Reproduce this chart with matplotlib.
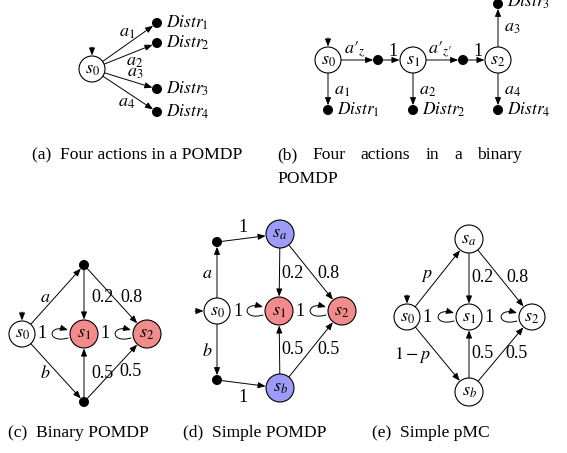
import numpy as np
import matplotlib.pyplot as plt
from matplotlib.patches import Circle, FancyArrowPatch
from matplotlib.path import Path

plt.rcParams['mathtext.fontset'] = 'stix'
plt.rcParams['font.family'] = ['Liberation Serif', 'DejaVu Serif']

# labels / data
a_actions = [r'$a_1$', r'$a_2$', r'$a_3$', r'$a_4$']
distrs = [r'$Distr_1$', r'$Distr_2$', r'$Distr_3$', r'$Distr_4$']
b_states = [r'$s_0$', r'$s_1$', r'$s_2$']
b_choices = ['$a\u2032_z$', '$a\u2032_{z\u2032}$']
b_probs = ['1', '1']
cd_actions = [r'$a$', r'$b$']
e_branch = [r'$p$', r'$1-p$']
probs_top = ['0.2', '0.8']
probs_bottom = ['0.5', '0.5']
loop_probs = ['1', '1']
captions = ['(a)  Four actions in a POMDP',
            '(b)  Four actions in a binary POMDP',
            '(c)  Binary POMDP', '(d)  Simple POMDP', '(e)  Simple pMC']

RED = '#f28b8b'
BLUE = '#9c9cf6'
FS = 13
R = 13
DOT = 4.3

fig = plt.figure(figsize=(5.67, 4.53), dpi=100)
ax = fig.add_axes([0, 0, 1, 1])
ax.set_xlim(0, 567)
ax.set_ylim(453, 0)
ax.set_aspect('equal')
ax.axis('off')


def node(xy, label, r=R, fc='white'):
    ax.add_patch(Circle(xy, r, fc=fc, ec='black', lw=0.8, zorder=3))
    ax.text(xy[0], xy[1], label, ha='center', va='center', fontsize=FS, zorder=4)


def dot(xy):
    ax.add_patch(Circle(xy, DOT, fc='black', ec='black', zorder=3))


def edge(p, q, rp=R, rq=R):
    p, q = np.array(p, float), np.array(q, float)
    d = (q - p) / np.linalg.norm(q - p)
    a = p + d * rp
    b = q - d * (rq + 0.5)
    ax.add_patch(FancyArrowPatch(a, b, arrowstyle='-|>,head_length=0.5,head_width=0.2',
                                 mutation_scale=9, lw=0.7, color='black',
                                 shrinkA=0, shrinkB=0, zorder=2))


def init_top(xy, r=R):
    edge((xy[0], xy[1] - r - 9), xy, 0, r)


def init_left(xy, r=R):
    edge((xy[0] - r - 9, xy[1]), xy, 0, r)


def loop(xy, r=R):
    x0 = xy[0] - r - 2
    y0 = xy[1]
    verts = [(x0, y0 + 4), (x0 - 21, y0 + 10), (x0 - 21, y0 - 10), (x0, y0 - 4)]
    path = Path(verts, [Path.MOVETO, Path.CURVE4, Path.CURVE4, Path.CURVE4])
    ax.add_patch(FancyArrowPatch(path=path, arrowstyle='-|>,head_length=0.5,head_width=0.2',
                                 mutation_scale=9, lw=0.7, color='black', zorder=2))


def label(xy, s, ha='center', fs=FS):
    ax.text(xy[0], xy[1], s, ha=ha, va='center', fontsize=fs)


# ---------------- (a)
s0 = (92, 69)
node(s0, r'$s_0$')
init_top(s0)
dots_a = [(157, 23), (157, 43), (157, 89), (157, 112)]
lab_a = [(127, 32), (135, 61), (135, 72), (127, 102)]
for d, s, lp, a in zip(dots_a, distrs, lab_a, a_actions):
    dot(d)
    edge(s0, d, R, DOT)
    label((d[0] + 9, d[1]), s, ha='left', fs=12.5)
    label(lp, a)

# ---------------- (b)
bs = [(328, 60), (413, 60), (498, 60)]
for p, s in zip(bs, b_states):
    node(p, s)
init_top(bs[0])
mids = [(378, 60), (463, 60)]
for i, m in enumerate(mids):
    dot(m)
    edge(bs[i], m, R, DOT)
    edge(m, bs[i + 1], DOT, R)
    label(((bs[i][0] + m[0]) / 2 + 2, 50), b_choices[i])
    label(((m[0] + bs[i + 1][0]) / 2 - 3, 52), b_probs[i])
below = [(328, 110), (413, 110), (498, 110)]
for p, d, a, s in zip(bs, below, [a_actions[0], a_actions[1], a_actions[3]],
                      [distrs[0], distrs[1], distrs[3]]):
    dot(d)
    edge(p, d, R, DOT)
    label((p[0] + 6, 90), a, ha='left')
    label((d[0] + 9, d[1]), s, ha='left', fs=12.5)
top = (498, 4)
dot(top)
edge(bs[2], top, R, DOT)
label((504, 27), a_actions[2], ha='left')
label((507, 2), distrs[2], ha='left', fs=12.5)

# ---------------- (c)
c0, c1, c2 = (22, 334), (84, 334), (147, 334)
ct, cb = (84, 265), (84, 402)
node(c0, r'$s_0$')
node(c1, r'$s_1$', 14, RED)
node(c2, r'$s_2$', 14, RED)
init_top(c0)
dot(ct)
dot(cb)
edge(c0, ct, R, DOT)
edge(c0, cb, R, DOT)
edge(ct, c1, DOT, 14)
edge(ct, c2, DOT, 14)
edge(cb, c1, DOT, 14)
edge(cb, c2, DOT, 14)
loop(c1, 14)
loop(c2, 14)
label((45, 297), cd_actions[0])
label((45, 373), cd_actions[1])
label((42, 334), loop_probs[0])
label((105, 334), loop_probs[1])
label((102, 297), probs_top[0])
label((131, 298), probs_top[1])
label((102, 373), probs_bottom[0])
label((131, 372), probs_bottom[1])

# ---------------- (d)
d0, d1, d2 = (217, 311), (279, 311), (342, 311)
da, db = (280, 234), (280, 388)
dt, dbt = (217, 242), (217, 380)
node(d0, r'$s_0$')
node(d1, r'$s_1$', 14, RED)
node(d2, r'$s_2$', 14, RED)
node(da, r'$s_a$', 14, BLUE)
node(db, r'$s_b$', 14, BLUE)
init_left(d0)
dot(dt)
dot(dbt)
edge(d0, dt, R, DOT)
edge(d0, dbt, R, DOT)
edge(dt, da, DOT, 14)
edge(dbt, db, DOT, 14)
edge(da, d1, 14, 14)
edge(da, d2, 14, 14)
edge(db, d1, 14, 14)
edge(db, d2, 14, 14)
loop(d1, 14)
loop(d2, 14)
label((243, 228), '1')
label((243, 397), '1')
label((207, 273), cd_actions[0])
label((207, 352), cd_actions[1])
label((238, 311), loop_probs[0])
label((300, 311), loop_probs[1])
label((292, 274), probs_top[0])
label((328, 274), probs_top[1])
label((292, 350), probs_bottom[0])
label((328, 350), probs_bottom[1])

# ---------------- (e)
e0, e1, e2 = (407, 317), (469, 317), (532, 317)
ea, eb = (469, 239), (469, 392)
node(e0, r'$s_0$')
node(e1, r'$s_1$')
node(e2, r'$s_2$')
node(ea, r'$s_a$', 14)
node(eb, r'$s_b$', 14)
init_top(e0)
edge(e0, ea, R, 14)
edge(e0, eb, R, 14)
edge(ea, e1, 14, R)
edge(ea, e2, 14, R)
edge(eb, e1, 14, R)
edge(eb, e2, 14, R)
loop(e1)
loop(e2)
label((427, 275), e_branch[0])
label((413, 355), e_branch[1])
label((427, 317), loop_probs[0])
label((489, 317), loop_probs[1])
label((483, 278), probs_top[0])
label((517, 278), probs_top[1])
label((483, 353), probs_bottom[0])
label((517, 353), probs_bottom[1])

# ---------------- captions
CFS = 12.6
ax.text(32, 155, captions[0], ha='left', va='center', fontsize=CFS)
# justified first line of caption (b)
words = captions[1].split()
first, rest = words[:-1], words[-1]
fig.canvas.draw()
rend = fig.canvas.get_renderer()
x_left, x_right = 277, 522
objs = [ax.text(0, 155, w, ha='left', va='center', fontsize=CFS) for w in first]
inv = ax.transData.inverted()
widths = []
for t in objs:
    bb = t.get_window_extent(rend)
    widths.append(abs(inv.transform((bb.x1, 0))[0] - inv.transform((bb.x0, 0))[0]))
gap = (x_right - x_left - sum(widths)) / (len(first) - 1)
x = x_left
for t, w in zip(objs, widths):
    t.set_x(x)
    x += w + gap
ax.text(x_left, 179, rest, ha='left', va='center', fontsize=CFS)

ax.text(8, 433, captions[2], ha='left', va='center', fontsize=CFS)
ax.text(183, 433, captions[3], ha='left', va='center', fontsize=CFS)
ax.text(372, 433, captions[4], ha='left', va='center', fontsize=CFS)

fig.savefig('out.png', dpi=100)
